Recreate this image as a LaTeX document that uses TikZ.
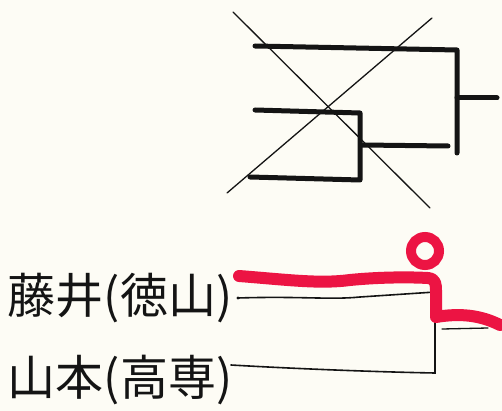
\documentclass[tikz,border=0pt]{standalone}
\usepackage{fontspec}
\newfontfamily\cjk{Noto Sans CJK JP}
\definecolor{paper}{HTML}{FDFCF5}
\definecolor{ink}{HTML}{141414}
\definecolor{marker}{HTML}{EC1443}
\tikzset{
  thickink/.style={draw=ink, line width=5pt, line cap=round, line join=round},
  thinink/.style={draw=ink, line width=1.3pt, line cap=round},
  midink/.style={draw=ink, line width=1.6pt, line cap=round, line join=miter},
  redmark/.style={draw=marker, line width=12pt, line cap=round, line join=round},
  namenode/.style={font=\cjk\fontsize{48}{48}\selectfont, text=ink, inner sep=0pt, anchor=center}
}
\begin{document}
\begin{tikzpicture}[x=1pt,y=-1pt]
\fill[paper] (0,0) rectangle (502,411);
\useasboundingbox (0,0) rectangle (502,411);
% ---- crossed-out bracket (top) ----
\coordinate (a1) at (255,46);
\coordinate (a2) at (457,50);
\coordinate (a3) at (457,153);
\coordinate (o1) at (457,98);
\coordinate (o2) at (497,98);
\coordinate (b1) at (255,110);
\coordinate (b2) at (360,113);
\coordinate (b3) at (360,180);
\coordinate (c1) at (250,177);
\coordinate (d1) at (362,145);
\coordinate (d2) at (448,146);
\draw[thickink] (a1) -- (a2) -- (a3);
\draw[thickink] (o1) -- (o2);
\draw[thickink] (b1) -- (b2) -- (b3) -- (c1);
\draw[thickink] (d1) -- (d2);
\coordinate (x1) at (233,12);
\coordinate (x2) at (430,208);
\coordinate (y1) at (432,18);
\coordinate (y2) at (227,193);
\draw[thinink] (x1) -- (x2);
\draw[thinink] (y1) -- (y2);
% ---- names ----
\node[namenode] (n1) at (120,298) {藤井(徳山)};
\node[namenode] (n2) at (120,380) {山本(高専)};
% ---- lower bracket ----
\coordinate (t1) at (238,298);
\coordinate (t2) at (435,292);
\coordinate (t3) at (435,373);
\coordinate (s1) at (231,365);
\coordinate (w1) at (442,329);
\coordinate (w2) at (488,328);
\fill[ink] (t1) circle (1.6pt);
\draw[midink] (t1) .. controls (300,296) and (330,300) .. (360,297) -- (t2) -- (t3)
  .. controls (380,372) and (300,369) .. (s1);
\draw[thinink] (w1) -- (w2);
% ---- red marker ----
\coordinate (r1) at (239,276);
\coordinate (r2) at (428,278);
\coordinate (r3) at (436,317);
\coordinate (r4) at (500,325);
\draw[redmark] (r1) .. controls (290,280) and (320,284) .. (350,280)
  .. controls (380,277) and (410,277) .. (r2)
  .. controls (436,279) and (436,284) .. (436,292) -- (r3)
  .. controls (460,313) and (480,315) .. (r4);
\draw[draw=marker, line width=10pt] (425,251) circle (14pt);
\end{tikzpicture}
\end{document}
